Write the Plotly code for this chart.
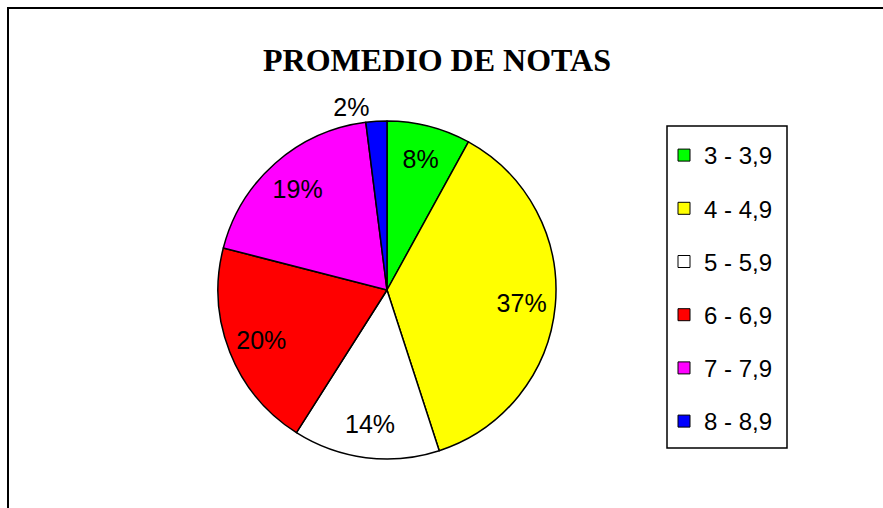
import plotly.graph_objects as go

categories = ["3 - 3,9", "4 - 4,9", "5 - 5,9", "6 - 6,9", "7 - 7,9", "8 - 8,9"]
percentages = [8, 37, 14, 20, 19, 2]
colors = ["#00FF00", "#FFFF00", "#FFFFFF", "#FF0000", "#FF00FF", "#0000FF"]
title_text = "PROMEDIO DE NOTAS"

W, H = 883, 508
cx, cy, r = 387, 290, 169
pie_domain = dict(x=[(cx - r) / W, (cx + r) / W],
                  y=[(H - cy - r) / H, (H - cy + r) / H])

fig = go.Figure()
# filled slices
fig.add_trace(go.Pie(
    labels=categories, values=percentages,
    sort=False, direction="clockwise", rotation=0,
    marker=dict(colors=colors, line=dict(color="black", width=1.5)),
    textinfo="none", showlegend=False,
    hoverinfo="label+percent", domain=pie_domain,
))
# transparent ring carrying the percentage labels (places them ~0.8 R out)
fig.add_trace(go.Pie(
    labels=categories, values=percentages,
    sort=False, direction="clockwise", rotation=0, hole=0.6,
    marker=dict(colors=["rgba(0,0,0,0)"] * len(categories),
                line=dict(color="rgba(0,0,0,0)", width=0)),
    textinfo="percent",
    textposition=["inside"] * 5 + ["outside"],
    insidetextorientation="horizontal",
    textfont=dict(family="Liberation Sans, Arial", size=25, color="black"),
    showlegend=False, hoverinfo="skip", domain=pie_domain,
))

for i, (cat, col) in enumerate(zip(categories, colors)):
    fig.add_trace(go.Scatter(
        x=[None], y=[None], mode="markers", name=cat,
        legendgroup=f"g{i}",
        marker=dict(symbol="square", size=12, color=col,
                    line=dict(color="black", width=1)),
    ))

fig.update_layout(
    width=W, height=H,
    margin=dict(l=0, r=0, t=0, b=0),
    paper_bgcolor="white", plot_bgcolor="white",
    xaxis=dict(visible=False), yaxis=dict(visible=False),
    title=dict(text=f"<b>{title_text}</b>", x=437 / W, y=1 - 60 / H,
               xanchor="center", yanchor="middle", xref="paper", yref="container",
               font=dict(family="Liberation Serif, Times New Roman", size=32, color="black")),
    legend=dict(
        x=664 / W, y=1 - 133 / H, xanchor="left", yanchor="top",
        borderwidth=0, bgcolor="rgba(0,0,0,0)",
        font=dict(family="Liberation Sans, Arial", size=24, color="black"),
        tracegroupgap=19, itemwidth=30,
    ),
    shapes=[
        dict(type="rect", xref="paper", yref="paper",
             x0=8 / W, x1=1.05, y0=-0.05, y1=1 - 8 / H,
             line=dict(color="black", width=2), fillcolor="rgba(0,0,0,0)"),
        dict(type="rect", xref="paper", yref="paper",
             x0=667 / W, x1=787 / W, y0=1 - 448 / H, y1=1 - 126 / H,
             line=dict(color="black", width=1.5), fillcolor="rgba(0,0,0,0)",
             layer="below"),
    ],
)

fig.write_html("out.html", config={"displayModeBar": False},
               post_script="document.body.style.margin='0';")
